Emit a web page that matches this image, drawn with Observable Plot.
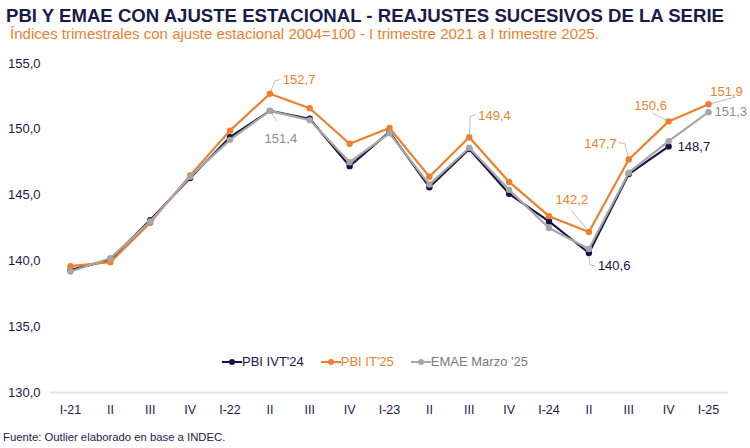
<!DOCTYPE html>
<html>
<head>
<meta charset="utf-8">
<script src="https://cdn.jsdelivr.net/npm/d3@7"></script>
<script src="https://cdn.jsdelivr.net/npm/@observablehq/plot@0.6"></script>
<style>
  html, body { margin: 0; padding: 0; background: #fff; }
  #wrap { position: relative; width: 750px; height: 448px; overflow: hidden; font-family: "Liberation Sans", Arial, sans-serif; }
  #head { position: absolute; left: 0; top: 0; }
  #chart { position: absolute; left: 0; top: 45px; }
  #legend { position: absolute; left: 0; top: 354px; width: 750px; display: flex; justify-content: center; gap: 17px; font-size: 13px; line-height: 16px; }
  #legend .item { display: flex; align-items: center; }
  #caption { position: absolute; left: 3px; top: 430px; font-size: 11.3px; line-height: 14px; color: #1b1b4b; }
</style>
</head>
<body>
<div id="wrap">
  <svg id="head" width="750" height="46">
    <text x="6" y="21.5" font-size="19" font-weight="bold" fill="#1b1b4b" textLength="718" lengthAdjust="spacingAndGlyphs">PBI Y EMAE CON AJUSTE ESTACIONAL - REAJUSTES SUCESIVOS DE LA SERIE</text>
    <text x="10" y="38.5" font-size="14" fill="#ee7f2d" textLength="589" lengthAdjust="spacingAndGlyphs">Índices trimestrales con ajuste estacional 2004=100 - I trimestre 2021 a I trimestre 2025.</text>
  </svg>
  <div id="chart"></div>
  <div id="legend"></div>
  <div id="caption">Fuente: Outlier elaborado en base a INDEC.</div>
</div>
<script>
// Quarter labels, I-2021 … I-2025
const quarters = ["I-21", "II", "III", "IV", "I-22", "II", "III", "IV", "I-23", "II", "III", "IV", "I-24", "II", "III", "IV", "I-25"];

// Seasonally adjusted indices, 2004=100
const pbiIVT24 = [139.3, 140.1, 143.1, 146.3, 149.4, 151.4, 150.8, 147.2, 149.8, 145.6, 148.5, 145.1, 143.0, 140.6, 146.6, 148.7];
const pbiIT25  = [139.6, 139.9, 142.9, 146.5, 149.9, 152.7, 151.6, 148.9, 150.1, 146.4, 149.4, 146.0, 143.4, 142.2, 147.7, 150.6, 151.9];
const emaeMar25 = [139.2, 140.2, 143.0, 146.4, 149.2, 151.4, 150.7, 147.5, 149.7, 145.8, 148.6, 145.4, 142.5, 140.9, 146.7, 149.1, 151.3];

const seriesNames = ["PBI IVT'24", "PBI IT'25", "EMAE Marzo '25"];
const seriesValues = [pbiIVT24, pbiIT25, emaeMar25];
const yTicks = [130, 135, 140, 145, 150, 155];

// Styling
const colors = {"PBI IVT'24": "#14144b", "PBI IT'25": "#ee7f2d", "EMAE Marzo '25": "#a6a6a6"};
const labelColors = {"PBI IVT'24": "#14144b", "PBI IT'25": "#ee7f2d", "EMAE Marzo '25": "#8c8c8c"};
const fmt = v => v.toFixed(1).replace(".", ",");

const W = 750, H = 385, mt = 18, mb = 38, ml = 70, mr = 42;
const pxX = (W - ml - mr) / (quarters.length - 1);
const pxY = (H - mt - mb) / (yTicks[yTicks.length - 1] - yTicks[0]);

const rows = seriesNames.map((name, k) => seriesValues[k].map((v, i) => ({name, i, v})));

// Value callouts: which point, text offset (px) and leader path (px, relative to the point)
const callouts = [
  {s: 1, i: 5,  anchor: "start",  tx: 13,  ty: -14, path: [[0, 0], [5, -13], [10, -14]]},
  {s: 2, i: 5,  anchor: "middle", tx: 11,  ty: 28,  path: [[0, 0], [7, 10]]},
  {s: 1, i: 10, anchor: "start",  tx: 9,   ty: -21, path: [[0, 0], [1, -21], [6, -22]]},
  {s: 1, i: 13, anchor: "middle", tx: -17, ty: -32, path: [[0, 0], [-17, -21]]},
  {s: 0, i: 13, anchor: "start",  tx: 9,   ty: 13,  path: [[0, 0], [1, 12], [6, 13]]},
  {s: 1, i: 14, anchor: "end",    tx: -12, ty: -16, path: [[0, 0], [-4, -16], [-10, -17]]},
  {s: 1, i: 15, anchor: "middle", tx: -18, ty: -16, path: [[0, 0], [-16, -8]]},
  {s: 1, i: 16, anchor: "middle", tx: 18,  ty: -12, path: [[0, 0], [26, -7]]},
  {s: 2, i: 16, anchor: "start",  tx: 6,   ty: 0,   path: null},
  {s: 0, i: 15, anchor: "start",  tx: 9,   ty: 0,   path: null}
];

const leaderPts = callouts.flatMap((c, k) => c.path ? c.path.map(([ox, oy]) => ({
  k, x: c.i + ox / pxX, y: seriesValues[c.s][c.i] - oy / pxY
})) : []);

const calloutMarks = callouts.map(c => Plot.text([c], {
  x: d => d.i,
  y: d => seriesValues[d.s][d.i],
  text: d => fmt(seriesValues[d.s][d.i]),
  dx: c.tx, dy: c.ty,
  textAnchor: c.anchor,
  lineAnchor: "middle",
  fill: labelColors[seriesNames[c.s]],
  fontSize: 13
}));

const seriesMarks = rows.flatMap(data => [
  Plot.line(data, {x: "i", y: "v", stroke: colors[data[0].name], strokeWidth: 2.2}),
  Plot.dot(data, {x: "i", y: "v", fill: colors[data[0].name], r: 3.2})
]);

const chart = Plot.plot({
  width: W, height: H,
  marginTop: mt, marginBottom: mb, marginLeft: ml, marginRight: mr,
  style: {fontFamily: "'Liberation Sans', Arial, sans-serif", background: "transparent", overflow: "visible"},
  x: {type: "linear", domain: [0, quarters.length - 1]},
  y: {domain: [yTicks[0], yTicks[yTicks.length - 1]]},
  marks: [
    Plot.ruleY([yTicks[0]], {stroke: "#e4e4e4", strokeWidth: 2, insetLeft: -20, insetRight: -20}),
    Plot.axisX(d3.range(quarters.length), {
      tickFormat: i => quarters[i], tickSize: 0, tickPadding: 13, fontSize: 12.5, fill: "#1b1b4b", label: null
    }),
    Plot.axisY(yTicks, {
      tickFormat: fmt, tickSize: 0, tickPadding: 30, fontSize: 13, fill: "#1b1b4b", label: null
    }),
    Plot.line(leaderPts, {x: "x", y: "y", z: "k", stroke: "#bfbfbf", strokeWidth: 1}),
    ...seriesMarks,
    ...calloutMarks
  ]
});
document.getElementById("chart").append(chart);

// Legend
const legend = d3.select("#legend");
seriesNames.forEach(name => {
  const item = legend.append("div").attr("class", "item");
  const sw = item.append("svg").attr("width", 20).attr("height", 10);
  sw.append("line").attr("x1", 0).attr("x2", 20).attr("y1", 5).attr("y2", 5)
    .attr("stroke", colors[name]).attr("stroke-width", 2);
  sw.append("circle").attr("cx", 10).attr("cy", 5).attr("r", 3).attr("fill", colors[name]);
  item.append("span").text(name)
    .style("color", name === "EMAE Marzo '25" ? "#7a7a7a" : colors[name]);
});
</script>
</body>
</html>
